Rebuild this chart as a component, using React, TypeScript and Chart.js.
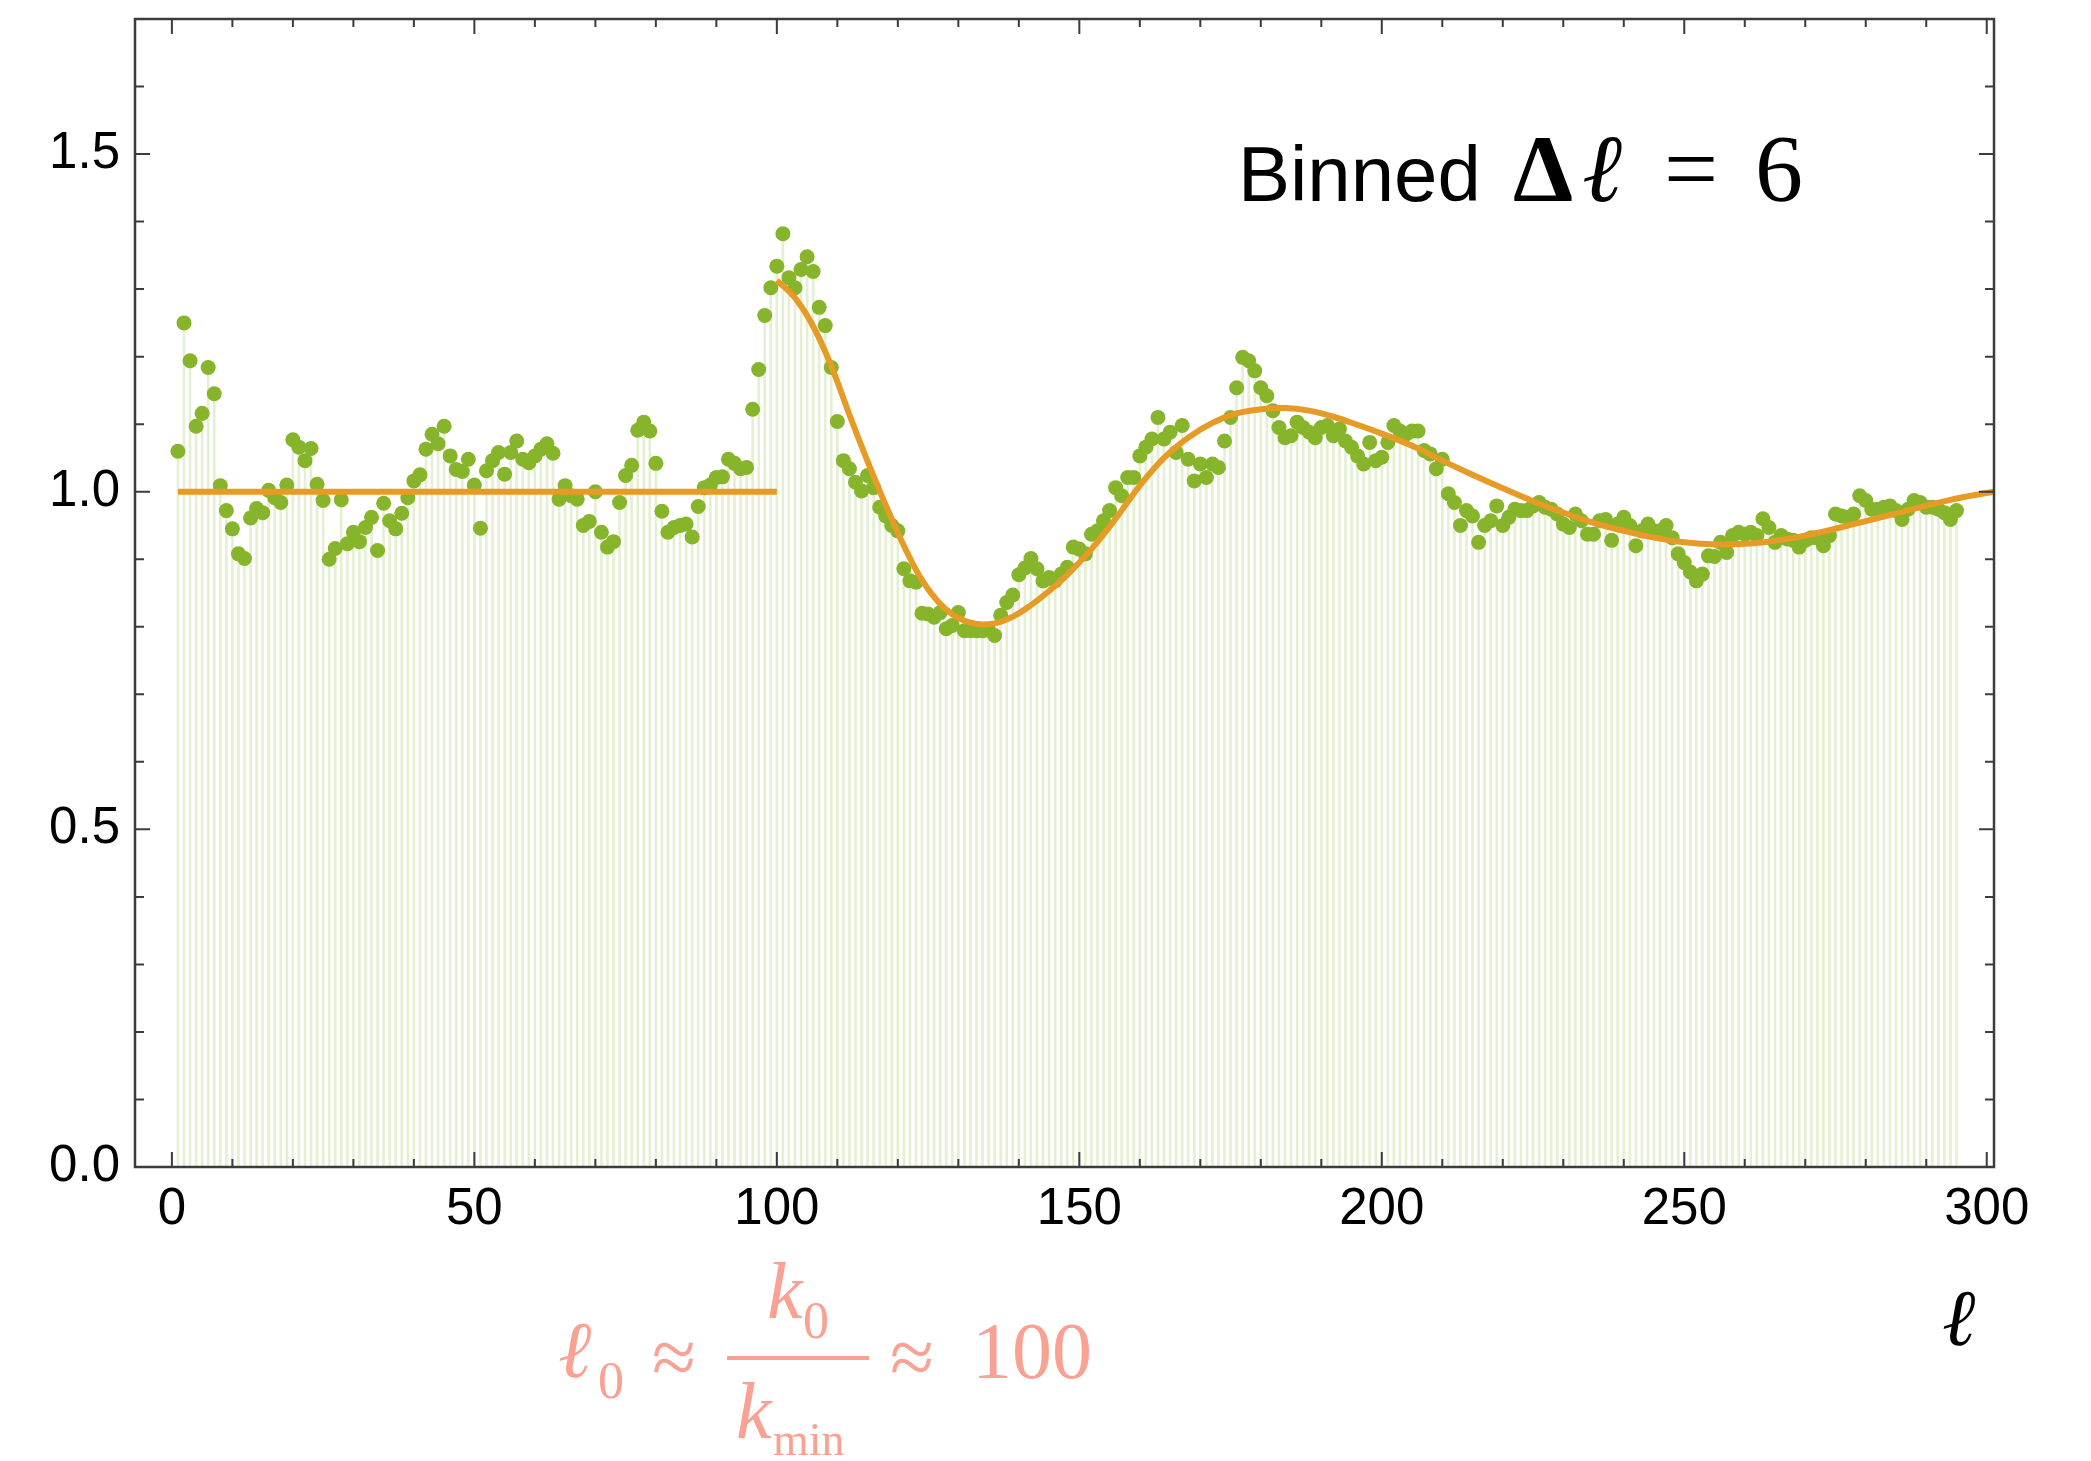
import React, { useEffect, useRef } from "react";
import { Chart, registerables } from "chart.js";

Chart.register(...registerables);

// Binned values, one per multipole ℓ = 1 … 295
const binnedValues = [
  1.06, 1.25, 1.194, 1.097, 1.116, 1.184, 1.145, 1.009, 0.972, 0.945,
  0.908, 0.901, 0.961, 0.975, 0.969, 1.002, 0.991, 0.984, 1.01, 1.077,
  1.066, 1.046, 1.064, 1.011, 0.987, 0.9, 0.916, 0.988, 0.923, 0.94,
  0.926, 0.947, 0.962, 0.913, 0.983, 0.957, 0.945, 0.968, 0.991, 1.016,
  1.025, 1.063, 1.085, 1.071, 1.097, 1.053, 1.033, 1.03, 1.048, 1.01,
  0.946, 1.031, 1.046, 1.058, 1.026, 1.058, 1.075, 1.048, 1.043, 1.053,
  1.063, 1.071, 1.057, 0.989, 1.009, 0.994, 0.989, 0.95, 0.956, 1.0,
  0.94, 0.918, 0.926, 0.984, 1.024, 1.039, 1.091, 1.103, 1.09, 1.042,
  0.971, 0.94, 0.947, 0.95, 0.952, 0.933, 0.978, 1.006, 1.01, 1.021,
  1.022, 1.048, 1.042, 1.034, 1.036, 1.122, 1.181, 1.261, 1.302, 1.334,
  1.382, 1.317, 1.302, 1.329, 1.348, 1.326, 1.273, 1.246, 1.184, 1.104,
  1.046, 1.034, 1.014, 1.001, 1.024, 1.006, 0.977, 0.964, 0.95, 0.942,
  0.886, 0.868, 0.866, 0.82, 0.819, 0.814, 0.821, 0.797, 0.802, 0.821,
  0.794, 0.794, 0.794, 0.794, 0.795, 0.787, 0.817, 0.836, 0.847, 0.877,
  0.887, 0.901, 0.886, 0.868, 0.873, 0.868, 0.878, 0.888, 0.918, 0.915,
  0.908, 0.937, 0.942, 0.957, 0.972, 1.006, 0.994, 1.021, 1.021, 1.053,
  1.066, 1.078, 1.11, 1.078, 1.088, 1.058, 1.098, 1.048, 1.016, 1.041,
  1.021, 1.041, 1.036, 1.075, 1.11, 1.154, 1.199, 1.194, 1.179, 1.154,
  1.142, 1.12, 1.095, 1.08, 1.083, 1.103, 1.095, 1.088, 1.08, 1.095,
  1.098, 1.083, 1.093, 1.075, 1.066, 1.053, 1.041, 1.073, 1.046, 1.051,
  1.073, 1.098, 1.09, 1.085, 1.09, 1.09, 1.061, 1.056, 1.034, 1.048,
  0.997, 0.984, 0.95, 0.972, 0.964, 0.925, 0.95, 0.957, 0.979, 0.95,
  0.962, 0.974, 0.972, 0.972, 0.979, 0.984, 0.977, 0.974, 0.967, 0.952,
  0.947, 0.967, 0.957, 0.937, 0.937, 0.957, 0.959, 0.928, 0.952, 0.962,
  0.95, 0.92, 0.942, 0.952, 0.942, 0.942, 0.95, 0.932, 0.908, 0.895,
  0.881, 0.868, 0.878, 0.905, 0.904, 0.925, 0.91, 0.935, 0.94, 0.937,
  0.94, 0.935, 0.96, 0.947, 0.925, 0.935, 0.93, 0.928, 0.918, 0.928,
  0.932, 0.932, 0.92, 0.935, 0.967, 0.964, 0.962, 0.967, 0.994, 0.987,
  0.974, 0.974, 0.977, 0.979, 0.972, 0.959, 0.974, 0.987, 0.984, 0.977,
  0.977, 0.974, 0.969, 0.959, 0.972,
];
const firstEll = 1;

// Flat reference line (ℓ < 100)
const flatEll = [1, 100];
const flatValues = [1.0, 1.0];

// Theory curve (ℓ ≥ 100)
const fitEll = [
  100, 103, 106, 109, 112, 115, 118, 121, 124, 127,
  130, 133, 136, 139, 142, 145, 148, 152, 156, 160,
  164, 168, 172, 176, 180, 184, 188, 192, 196, 200,
  205, 210, 215, 220, 225, 230, 235, 240, 245, 250,
  255, 262, 270, 278, 286, 294, 301.2,
];
const fitValues = [
  1.313, 1.287, 1.245, 1.186, 1.114, 1.045, 0.98, 0.92, 0.869, 0.834,
  0.813, 0.804, 0.805, 0.815, 0.832, 0.853, 0.877, 0.915, 0.96, 1.009,
  1.05, 1.08, 1.102, 1.116, 1.122, 1.124, 1.12, 1.111, 1.099, 1.086,
  1.068, 1.046, 1.025, 1.005, 0.986, 0.969, 0.954, 0.942, 0.932, 0.925,
  0.922, 0.924, 0.935, 0.952, 0.97, 0.988, 1.0,
];

// Axis ticks
const xMajorTicks = [0, 50, 100, 150, 200, 250, 300];
const xMinorTicks = [0, 10, 20, 30, 40, 50, 60, 70, 80, 90, 100, 110, 120, 130, 140, 150, 160, 170, 180, 190, 200, 210, 220, 230, 240, 250, 260, 270, 280, 290, 300];
const yMajorTicks = [0, 0.5, 1.0, 1.5];
const yMinorTicks = [0, 0.1, 0.2, 0.3, 0.4, 0.5, 0.6, 0.7, 0.8, 0.9, 1.0, 1.1, 1.2, 1.3, 1.4, 1.5, 1.6, 1.7];

const GREEN = "rgb(134,180,42)";
const STEM = "rgba(150,195,80,0.25)";
const ORANGE = "rgb(230,155,38)";
const SALMON = "rgb(249,162,148)";
const SERIF = '"Liberation Serif", "DejaVu Serif", serif';
const SANS = '"Liberation Sans", Arial, sans-serif';

const framePlugin = {
  id: "mmaFrame",
  afterDraw(chart: any) {
    const { ctx, chartArea, scales } = chart;
    const { left, right, top, bottom } = chartArea;
    const x = scales.x;
    const y = scales.y;
    ctx.save();
    ctx.strokeStyle = "#3c3c3c";
    ctx.lineWidth = 2;
    ctx.beginPath();
    for (const v of xMinorTicks) {
      const px = x.getPixelForValue(v);
      const len = xMajorTicks.includes(v) ? 15 : 8;
      ctx.moveTo(px, bottom);
      ctx.lineTo(px, bottom - len);
      ctx.moveTo(px, top);
      ctx.lineTo(px, top + len);
    }
    for (const v of yMinorTicks) {
      const py = y.getPixelForValue(v);
      const len = yMajorTicks.includes(v) ? 15 : 9;
      ctx.moveTo(left, py);
      ctx.lineTo(left + len, py);
      ctx.moveTo(right, py);
      ctx.lineTo(right - len, py);
    }
    ctx.stroke();
    ctx.lineWidth = 2.5;
    ctx.strokeRect(left, top, right - left, bottom - top);

    // Annotation: Binned Δℓ = 6
    ctx.fillStyle = "#000";
    ctx.textBaseline = "alphabetic";
    ctx.textAlign = "left";
    ctx.font = `78px ${SANS}`;
    ctx.fillText("Binned", 1238, 201);
    ctx.font = `bold 96px ${SERIF}`;
    ctx.fillText("Δ", 1513, 201);
    ctx.font = `italic 96px ${SERIF}`;
    ctx.fillText("ℓ", 1582, 201);
    ctx.font = `96px ${SERIF}`;
    ctx.fillText("=", 1664, 201);
    ctx.fillText("6", 1755, 201);

    // Axis label ℓ
    ctx.font = `italic 80px ${SERIF}`;
    ctx.fillText("ℓ", 1942, 1345);

    // Formula ℓ0 ≈ k0 / kmin ≈ 100
    ctx.fillStyle = SALMON;
    ctx.font = `italic 80px ${SERIF}`;
    ctx.fillText("ℓ", 558, 1377);
    ctx.font = `52px ${SERIF}`;
    ctx.fillText("0", 598, 1398);
    ctx.font = `80px ${SERIF}`;
    ctx.fillText("≈", 652, 1384);
    ctx.fillRect(727, 1356, 142, 4);
    ctx.font = `italic 80px ${SERIF}`;
    ctx.fillText("k", 767, 1318);
    ctx.font = `52px ${SERIF}`;
    ctx.fillText("0", 803, 1338);
    ctx.font = `italic 80px ${SERIF}`;
    ctx.fillText("k", 736, 1438);
    ctx.font = `46px ${SERIF}`;
    ctx.fillText("min", 773, 1455);
    ctx.font = `80px ${SERIF}`;
    ctx.fillText("≈", 890, 1384);
    ctx.fillText("100", 972, 1378);
    ctx.restore();
  },
};

export default function App() {
  const ref = useRef<HTMLCanvasElement | null>(null);

  useEffect(() => {
    if (!ref.current) return;
    const points = binnedValues.map((v, i) => ({ x: firstEll + i, y: v }));
    const flat = flatEll.map((e, i) => ({ x: e, y: flatValues[i] }));
    const fit = fitEll.map((e, i) => ({ x: e, y: fitValues[i] }));

    const chart = new Chart(ref.current, {
      type: "scatter",
      data: {
        datasets: [
          {
            type: "line",
            data: fit,
            borderColor: ORANGE,
            borderWidth: 6,
            pointRadius: 0,
            tension: 0.4,
            fill: false,
            order: 0,
          } as any,
          {
            type: "line",
            data: flat,
            borderColor: ORANGE,
            borderWidth: 6,
            pointRadius: 0,
            fill: false,
            order: 0,
          } as any,
          {
            type: "scatter",
            data: points,
            backgroundColor: GREEN,
            borderWidth: 0,
            pointRadius: 7.5,
            order: 1,
          } as any,
          {
            type: "bar",
            data: points,
            backgroundColor: STEM,
            barThickness: 2,
            grouped: false,
            order: 2,
          } as any,
        ],
      },
      options: {
        responsive: false,
        animation: false,
        devicePixelRatio: 1,
        events: [],
        layout: { padding: { top: 19, right: 97, left: 0, bottom: 0 } },
        plugins: { legend: { display: false }, tooltip: { enabled: false } },
        scales: {
          x: {
            type: "linear",
            min: -6.1,
            max: 301.2,
            offset: false,
            grid: { display: false, drawTicks: false },
            border: { display: false },
            ticks: {
              color: "#000",
              font: { family: SANS, size: 51 },
              padding: 12,
              maxRotation: 0,
              autoSkip: false,
              callback: (v: any) => String(v),
            },
            afterBuildTicks: (s: any) => {
              s.ticks = xMajorTicks.map((v) => ({ value: v }));
            },
            afterFit: (s: any) => {
              s.height = 294;
              s.paddingLeft = 0;
              s.paddingRight = 0;
            },
          },
          y: {
            type: "linear",
            min: 0,
            max: 1.7,
            grid: { display: false, drawTicks: false },
            border: { display: false },
            ticks: {
              color: "#000",
              font: { family: SANS, size: 51 },
              padding: 15,
              autoSkip: false,
              callback: (v: any) => Number(v).toFixed(1),
            },
            afterBuildTicks: (s: any) => {
              s.ticks = yMajorTicks.map((v) => ({ value: v }));
            },
            afterFit: (s: any) => {
              s.width = 135;
              s.paddingTop = 0;
              s.paddingBottom = 0;
            },
          },
        },
      },
      plugins: [framePlugin],
    } as any);

    return () => chart.destroy();
  }, []);

  return (
    <div
      style={{
        position: "fixed",
        left: 0,
        top: 0,
        width: 2091,
        height: 1461,
        background: "#fff",
      }}
    >
      <canvas ref={ref} width={2091} height={1461} />
    </div>
  );
}
